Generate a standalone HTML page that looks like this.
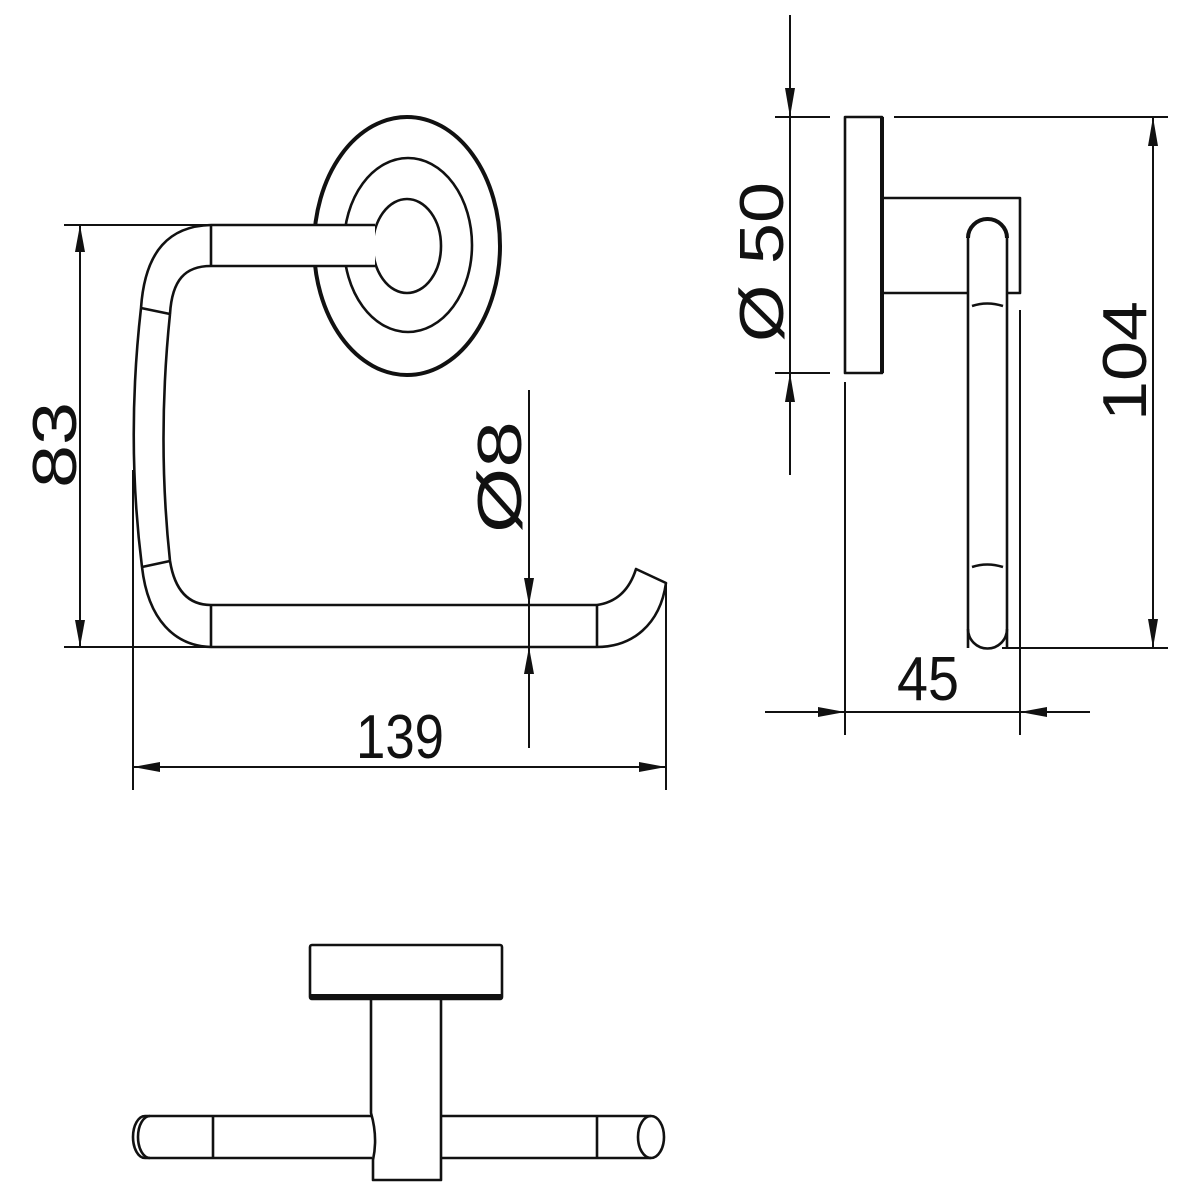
<!DOCTYPE html>
<html><head><meta charset="utf-8"><style>html,body{margin:0;padding:0;background:#fff}svg{display:block}</style></head>
<body>
<svg width="1200" height="1200" viewBox="0 0 1200 1200" xmlns="http://www.w3.org/2000/svg">
<g fill="none" stroke="#111" stroke-width="2.6" stroke-linejoin="round">
<!-- ===== FRONT VIEW ===== -->
<ellipse cx="407" cy="246" rx="93" ry="129" stroke-width="4"/>
<ellipse cx="408" cy="245" rx="64" ry="87"/>
<ellipse cx="407" cy="246" rx="34" ry="47"/>
<!-- top arm -->
<rect x="211" y="225" width="164" height="41" fill="#fff" stroke="none"/>
<path d="M211,225 H375 M211,266 H375"/>
<line x1="211" y1="225" x2="211" y2="266"/>
<!-- corners and vertical -->
<path d="M141,308 C145,250 170,226 211,225"/>
<path d="M170,314 C172,280 185,266 211,266"/>
<path d="M141,308 Q126,440 142,567"/>
<path d="M170,314 Q157,440 170,561"/>
<line x1="141" y1="308" x2="170" y2="314"/>
<line x1="142" y1="567" x2="170" y2="561"/>
<path d="M142,567 C148,620 175,646 211,647"/>
<path d="M170,561 C175,592 190,605 211,605"/>
<!-- bottom arm -->
<path d="M211,605 H597 M211,647 H597"/>
<line x1="211" y1="605" x2="211" y2="647"/>
<line x1="597" y1="605" x2="597" y2="647"/>
<path d="M597,605 C618,602 630,588 636,569 L666,583 C660,625 632,647 597,647"/>
<!-- dim 83 -->
<line x1="64" y1="225" x2="211" y2="225" stroke-width="2"/>
<line x1="64" y1="647" x2="597" y2="647" stroke-width="2"/>
<line x1="80" y1="225" x2="80" y2="647" stroke-width="2"/>
<!-- dim 139 -->
<line x1="133" y1="470" x2="133" y2="790" stroke-width="2"/>
<line x1="666" y1="583" x2="666" y2="790" stroke-width="2"/>
<line x1="133" y1="767" x2="666" y2="767" stroke-width="2"/>
<!-- dim Ø8 -->
<line x1="529" y1="390" x2="529" y2="748" stroke-width="2"/>

<!-- ===== SIDE VIEW ===== -->
<rect x="845" y="117" width="37" height="256"/>
<line x1="882" y1="117" x2="882" y2="373" stroke-width="4"/>
<path d="M884,198 H1020 V293 H1007 M884,293 H968"/>
<path d="M968,648 V238 A19.5,19.5 0 0 1 1007,238 V648" fill="#fff"/>
<path d="M968,238 A19.5,19 0 0 1 1007,238" stroke-width="4"/>
<line x1="968" y1="648" x2="1007" y2="648" stroke="none"/>
<path d="M968,629 A19.5,19.5 0 0 0 1007,629"/>
<path d="M972,306 Q987,301 1003,306 M972,567 Q987,562 1003,567"/>
<!-- dim Ø50 -->
<line x1="790" y1="15" x2="790" y2="475" stroke-width="2"/>
<line x1="775" y1="117" x2="830" y2="117" stroke-width="2"/>
<line x1="775" y1="373" x2="830" y2="373" stroke-width="2"/>
<!-- dim 104 -->
<line x1="894" y1="117" x2="1168" y2="117" stroke-width="2"/>
<line x1="1002" y1="648" x2="1168" y2="648" stroke-width="2"/>
<line x1="1153" y1="117" x2="1153" y2="648" stroke-width="2"/>
<!-- dim 45 -->
<line x1="845" y1="382" x2="845" y2="735" stroke-width="2"/>
<line x1="1020" y1="310" x2="1020" y2="735" stroke-width="2"/>
<line x1="765" y1="712" x2="1090" y2="712" stroke-width="2"/>

<!-- ===== TOP VIEW ===== -->
<rect x="310" y="945" width="192" height="54" rx="2"/>
<line x1="311" y1="996" x2="501" y2="996" stroke-width="4"/>
<path d="M145,1116 H372 M145,1158 H372"/>
<path d="M145,1116 A12,21 0 0 0 145,1158"/>
<path d="M150,1116 A12,21 0 0 0 150,1158"/>
<line x1="213" y1="1116" x2="213" y2="1158"/>
<path d="M441,1116 H651 M441,1158 H651"/>
<line x1="597" y1="1116" x2="597" y2="1158"/>
<ellipse cx="651" cy="1137" rx="13" ry="21"/>
<path d="M371,999 V1113 Q378,1137 373,1160 V1180 H441 V999"/>
</g>

<!-- arrowheads -->
<g fill="#111">
<polygon points="80,225 75,252 85,252"/>
<polygon points="80,647 75,620 85,620"/>
<polygon points="133,767 160,762 160,772"/>
<polygon points="666,767 639,762 639,772"/>
<polygon points="529,605 524,578 534,578"/>
<polygon points="529,647 524,674 534,674"/>
<polygon points="790,117 785,88 795,88"/>
<polygon points="790,373 785,402 795,402"/>
<polygon points="1153,117 1148,146 1158,146"/>
<polygon points="1153,648 1148,619 1158,619"/>
<polygon points="845,712 818,707 818,717"/>
<polygon points="1020,712 1047,707 1047,717"/>
</g>

<!-- labels -->
<g font-family="Liberation Sans, sans-serif" fill="#111" font-size="62" text-anchor="middle">
<text x="0" y="0" transform="translate(76,445) rotate(-90)" textLength="86" lengthAdjust="spacingAndGlyphs">83</text>
<text x="400" y="758" textLength="88" lengthAdjust="spacingAndGlyphs">139</text>
<text x="0" y="0" transform="translate(521,477) rotate(-90)" textLength="112" lengthAdjust="spacingAndGlyphs">Ø8</text>
<text x="0" y="0" transform="translate(783,262) rotate(-90)" textLength="160" lengthAdjust="spacingAndGlyphs">Ø 50</text>
<text x="0" y="0" transform="translate(1146,361) rotate(-90)" textLength="120" lengthAdjust="spacingAndGlyphs">104</text>
<text x="928" y="700" textLength="62" lengthAdjust="spacingAndGlyphs">45</text>
</g>
</svg>
</body></html>
